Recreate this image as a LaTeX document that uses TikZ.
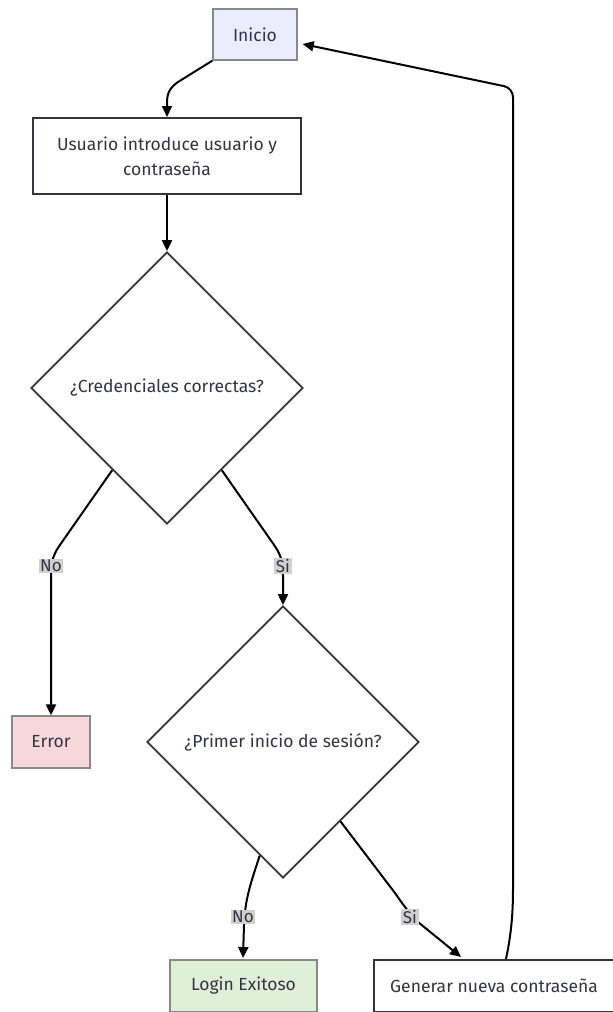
\documentclass[tikz,border=0pt]{standalone}
\usepackage{fontspec}
\setmainfont{Fira Sans}
\usetikzlibrary{arrows.meta,shapes.geometric,calc}
\definecolor{txt}{HTML}{333344}
\definecolor{inifill}{HTML}{ECECFF}
\definecolor{errfill}{HTML}{F8D7DA}
\definecolor{okfill}{HTML}{DFF0D8}
\definecolor{lblfill}{HTML}{D0D0D0}
\definecolor{dark}{HTML}{333344}
\definecolor{grayb}{HTML}{888888}
\begin{document}
\begin{tikzpicture}[x=1pt,y=-1pt,
  every node/.style={font=\fontsize{17.5}{25}\selectfont, text=txt},
  lightbox/.style={draw=grayb, line width=1.3pt, inner sep=0pt},
  darkbox/.style={draw=dark, fill=white, line width=2pt, inner sep=0pt},
  decision/.style={diamond, draw=dark, fill=white, line width=1.8pt, minimum width=272pt, minimum height=272pt, inner sep=0pt},
  arr/.style={line width=2pt, draw=black, -{Triangle[length=11pt,width=10pt]}},
  lbl/.style={fill=lblfill, inner sep=1.5pt, font=\fontsize{17}{19}\selectfont}]
\useasboundingbox (0,0) rectangle (613,1012);
\node[lightbox, fill=inifill, minimum width=84pt, minimum height=51pt] (ini) at (255,34.5) {Inicio};
\node[darkbox, minimum width=268pt, minimum height=76pt, align=center] (usr) at (167,156) {Usuario introduce usuario y\\contraseña};
\node[decision] (d1) at (167,388) {¿Credenciales correctas?};
\node[decision] (d2) at (283,742) {¿Primer inicio de sesión?};
\node[lightbox, fill=errfill, minimum width=78pt, minimum height=52pt] (err) at (51,742) {Error};
\node[lightbox, fill=okfill, minimum width=147pt, minimum height=52pt] (ok) at (243.5,986) {Login Exitoso};
\node[darkbox, minimum width=240pt, minimum height=52pt] (gen) at (494,986) {Generar nueva contraseña};
% edges
\draw[arr] (ini.south west) -- (178,82) .. controls (168,89) and (167,95) .. (167,104) -- (usr.north);
\draw[arr] (usr.south) -- (d1.north);
\draw[arr] ($(d1.west)!0.6!(d1.south)$) -- (62,542) .. controls (54,553) and (51,560) .. (51,575) -- (err.north);
\draw[arr] ($(d1.east)!0.6!(d1.south)$) -- (272,542) .. controls (280,553) and (283,560) .. (283,575) -- (d2.north);
\draw[arr] ($(d2.west)!0.83!(d2.south)$) .. controls (250,885) and (245,900) .. (244,925) -- (243,958);
\draw[arr] ($(d2.east)!0.58!(d2.south)$) -- (395,893) .. controls (402,903) and (408,912) .. (418,922) -- ($(gen.north)+(-33,-2)$);
\draw[arr, rounded corners=9pt] ($(gen.north)+(12,0)$) .. controls (511,935) and (513,915) .. (513,880) -- (513,88) -- ($(ini.east |- 0,44)+(5,0)$);
% labels
\node[lbl] (l1) at (51,566) {No};
\node[lbl] (l2) at (283,566) {Si};
\node[lbl] (l3) at (243,917) {No};
\node[lbl] (l4) at (410,917) {Si};
\end{tikzpicture}
\end{document}
